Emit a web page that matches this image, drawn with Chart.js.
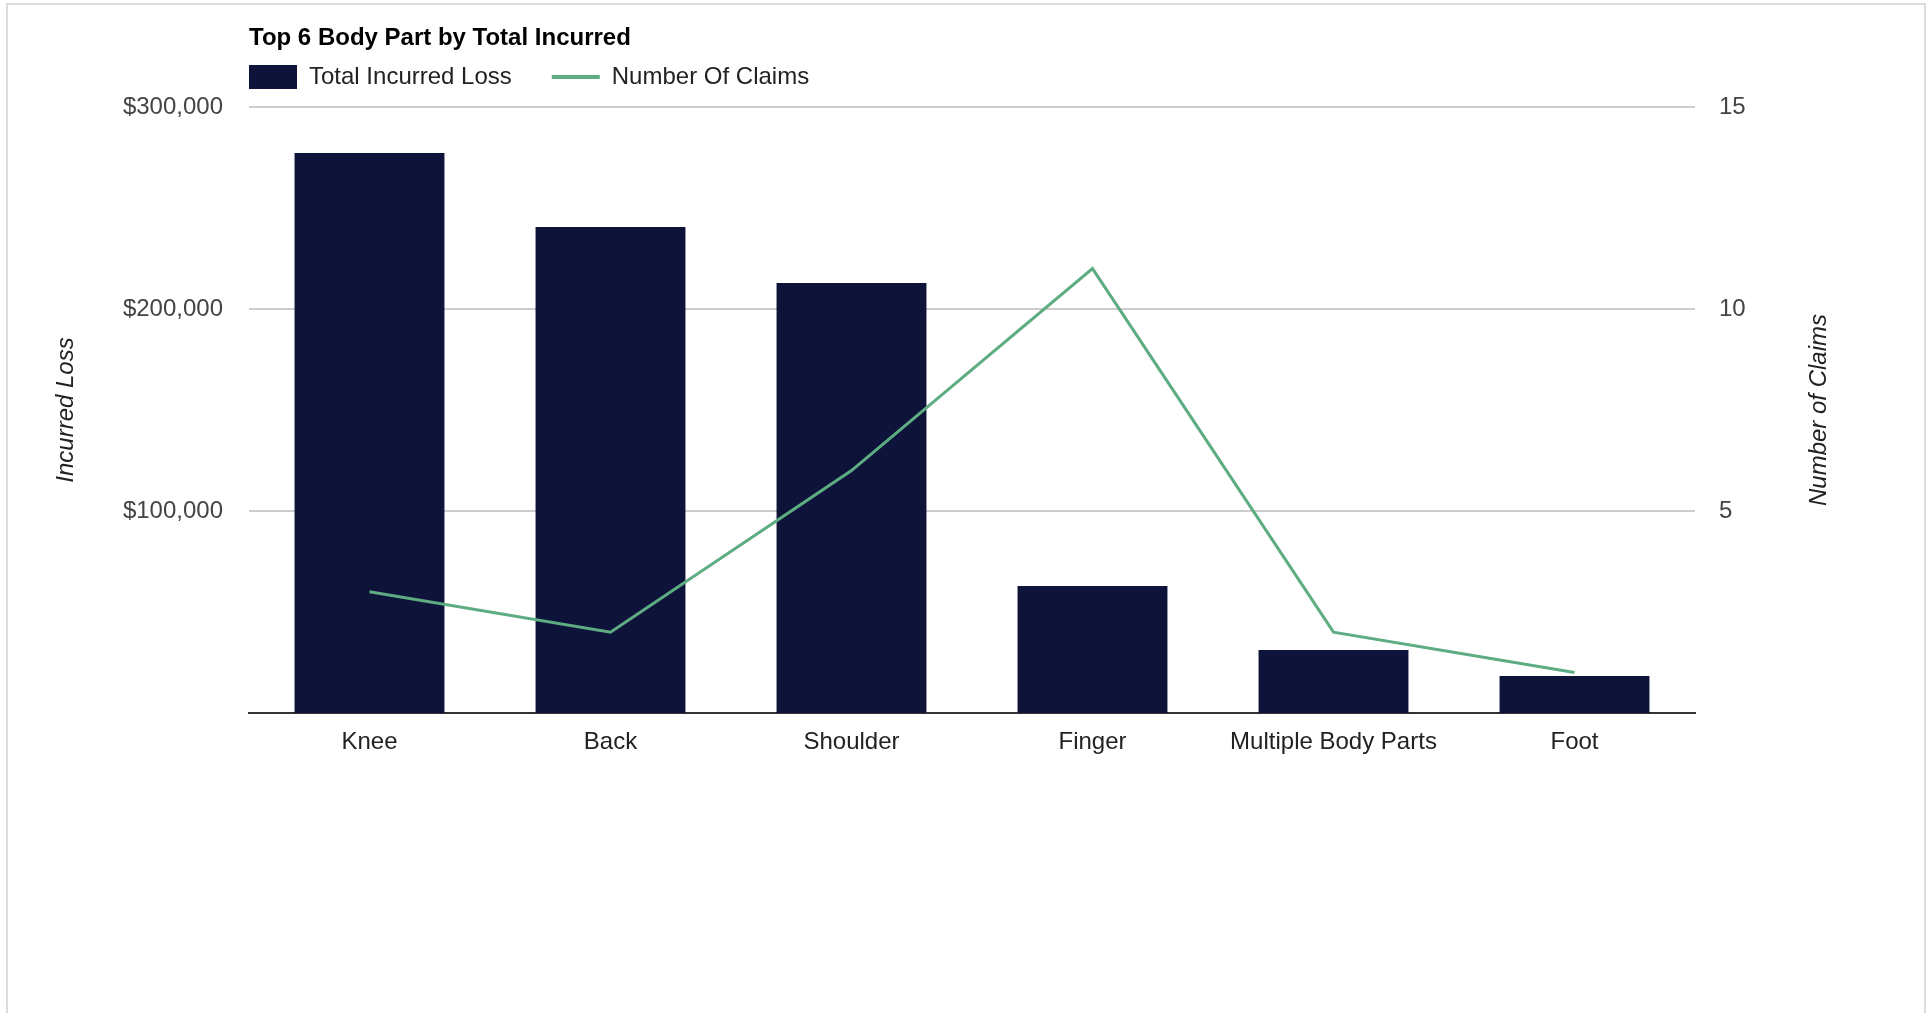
<!DOCTYPE html>
<html>
<head>
<meta charset="utf-8">
<script src="https://cdn.jsdelivr.net/npm/chart.js@4/dist/chart.umd.min.js"></script>
<style>
html, body { margin: 0; padding: 0; background: #ffffff; overflow: hidden; }
#frame { position: absolute; left: 6px; top: 3px; width: 1916px; height: 1100px; border: 2px solid #dcdcdc; border-bottom: none; }
#wrap { position: absolute; left: 0; top: 0; width: 1931px; height: 1013px; }
</style>
</head>
<body>
<div id="frame"></div>
<div id="wrap"><canvas id="c" width="1931" height="1013"></canvas></div>
<script>
// ---- data ----
const chartTitle = 'Top 6 Body Part by Total Incurred';
const categories = ['Knee', 'Back', 'Shoulder', 'Finger', 'Multiple Body Parts', 'Foot'];
const incurredLoss = [277200, 240600, 212900, 62900, 31200, 18300];
const numberOfClaims = [3, 2, 6, 11, 2, 1];
const lossTicks = [100000, 200000, 300000];
const claimTicks = [5, 10, 15];
const seriesNames = ['Total Incurred Loss', 'Number Of Claims'];
const leftAxisTitle = 'Incurred Loss';
const rightAxisTitle = 'Number of Claims';

// ---- style ----
const FONT = '"Liberation Sans", Arial, Helvetica, sans-serif';
const BAR_COLOR = '#0e1439';
const LINE_COLOR = '#5eac82';

const layoutTweaks = {
  id: 'layoutTweaks',
  afterLayout(chart) {
    const lg = chart.legend;
    if (lg) {
      const p = lg.options.labels.padding;
      lg.left -= p;
      lg.right -= p;
      lg.top = 25;
      lg.height = lg.bottom - lg.top;
    }
  },
  afterDraw(chart) {
    const ctx = chart.ctx;
    const area = chart.chartArea;
    ctx.save();
    ctx.translate(area.right + 124, (area.top + area.bottom) / 2);
    ctx.rotate(-Math.PI / 2);
    ctx.font = 'italic 24px ' + FONT;
    ctx.fillStyle = '#222222';
    ctx.textAlign = 'center';
    ctx.textBaseline = 'middle';
    ctx.fillText(rightAxisTitle, 0, 0);
    ctx.restore();
  }
};

new Chart(document.getElementById('c'), {
  type: 'bar',
  data: {
    labels: categories,
    datasets: [
      {
        label: seriesNames[0],
        data: incurredLoss,
        backgroundColor: BAR_COLOR,
        borderWidth: 0,
        yAxisID: 'y',
        order: 1,
        categoryPercentage: 1,
        barPercentage: 0.622
      },
      {
        type: 'line',
        label: seriesNames[1],
        data: numberOfClaims,
        borderColor: LINE_COLOR,
        backgroundColor: LINE_COLOR,
        borderWidth: 3,
        pointRadius: 0,
        pointHoverRadius: 0,
        tension: 0,
        fill: false,
        yAxisID: 'y1',
        order: 0
      }
    ]
  },
  options: {
    responsive: false,
    animation: false,
    events: [],
    layout: { padding: 0 },
    scales: {
      x: {
        position: 'bottom',
        grid: { display: false },
        border: { display: true, color: '#333333', width: 2 },
        ticks: {
          padding: 7,
          color: '#222222',
          font: { family: FONT, size: 24 },
          maxRotation: 0,
          autoSkip: false
        },
        afterFit(scale) { scale.height = 300; }
      },
      y: {
        position: 'left',
        min: 0,
        max: 300000,
        grid: {
          color: '#cccccc',
          lineWidth: 2,
          drawTicks: false
        },
        border: { display: false },
        ticks: {
          padding: 26,
          color: '#444444',
          font: { family: FONT, size: 24 },
          callback: (v) => '$' + Number(v).toLocaleString('en-US')
        },
        afterBuildTicks(scale) { scale.ticks = lossTicks.map(v => ({ value: v })); },
        title: {
          display: true,
          text: leftAxisTitle,
          color: '#222222',
          font: { family: FONT, size: 24, style: 'italic' },
          padding: { top: 52, bottom: 0 }
        },
        afterFit(scale) { scale.width = 249; }
      },
      y1: {
        position: 'right',
        min: 0,
        max: 15,
        grid: { display: false, drawTicks: false },
        border: { display: false },
        ticks: {
          padding: 24,
          color: '#444444',
          font: { family: FONT, size: 24 }
        },
        afterBuildTicks(scale) { scale.ticks = claimTicks.map(v => ({ value: v })); },
        afterFit(scale) { scale.width = 236; }
      }
    },
    plugins: {
      tooltip: { enabled: false },
      title: {
        display: true,
        text: chartTitle,
        align: 'start',
        fullSize: false,
        color: '#000000',
        font: { family: FONT, size: 24, weight: 'bold' },
        padding: { top: 24, bottom: 0 }
      },
      legend: {
        display: true,
        position: 'top',
        align: 'start',
        fullSize: false,
        maxHeight: 54.2,
        labels: {
          padding: 40,
          usePointStyle: true,
          pointStyleWidth: 48,
          boxHeight: 24,
          color: '#222222',
          font: { family: FONT, size: 24 },
          generateLabels(chart) {
            return chart.data.datasets.map((ds, i) => ({
              text: ds.label,
              fillStyle: ds.backgroundColor,
              strokeStyle: i === 0 ? ds.backgroundColor : ds.borderColor,
              lineWidth: i === 0 ? 0 : 4,
              pointStyle: i === 0 ? 'rect' : 'line',
              hidden: false,
              datasetIndex: i,
              fontColor: '#222222'
            }));
          }
        }
      }
    }
  },
  plugins: [layoutTweaks]
});
</script>
</body>
</html>
